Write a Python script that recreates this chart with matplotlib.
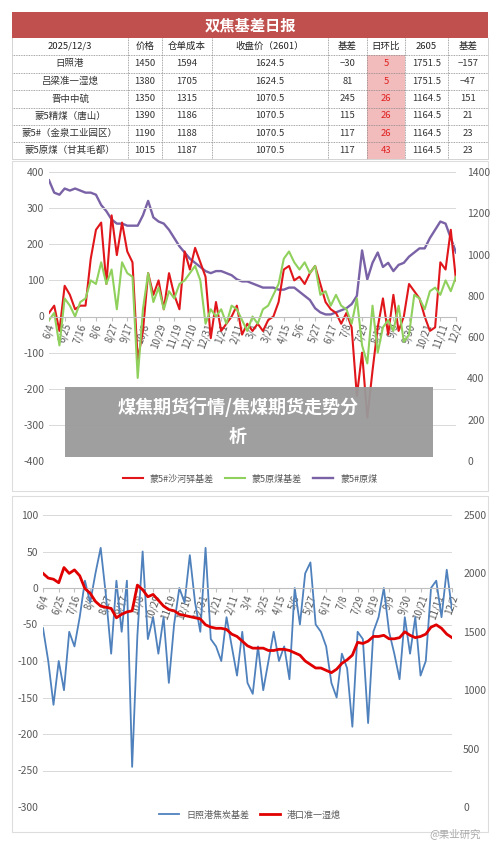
import matplotlib
matplotlib.use("Agg")
import matplotlib.pyplot as plt
import numpy as np

plt.rcParams['font.family'] = ['Noto Sans CJK SC', 'DejaVu Sans']

# ---------------- data ----------------
tick_labels = ["6/4","6/25","7/16","8/6","8/27","9/17","10/8","10/29","11/19","12/10","12/31",
               "1/21","2/11","3/4","3/25","4/15","5/6","5/27","6/17","7/8","7/29","8/19","9/9",
               "9/30","10/21","11/11","12/2"]

red_top = [10,30,-40,85,60,20,30,30,160,240,260,90,280,170,260,180,150,-120,-40,120,60,100,20,120,60,20,
           180,130,190,150,110,-60,40,-40,-20,0,30,-50,-20,-40,-20,-40,-10,0,40,130,140,100,110,90,120,140,
           90,40,20,10,-20,10,-30,-220,-100,-280,-150,-30,50,-50,60,-40,0,90,70,50,0,-40,-30,150,130,240,100]
green_top = [-10,10,-80,50,30,0,40,50,100,90,150,90,130,20,150,120,110,-170,20,120,40,80,20,70,50,90,
             100,120,140,100,-20,20,0,20,-20,30,20,-10,-40,0,-20,20,30,60,90,160,180,150,130,150,120,140,
             60,70,30,60,30,20,-20,50,-80,-130,30,-100,-30,-10,-40,30,-70,-50,60,50,20,70,80,60,100,70,110]
purple_top = [1360,1300,1290,1320,1310,1320,1310,1300,1300,1290,1240,1210,1170,1150,1150,1140,1140,1140,
              1190,1260,1180,1160,1150,1120,1080,1040,1010,980,960,940,920,910,920,920,910,900,880,870,870,
              860,850,840,840,840,830,830,840,840,820,800,780,740,720,710,710,720,730,740,760,800,1020,880,
              960,1010,940,960,920,950,960,990,1010,1030,1030,1080,1120,1160,1150,1080,1010]

blue_bot = [-55,-100,-160,-100,-140,-60,-80,-40,10,-20,20,55,-10,-90,10,-60,10,-245,-65,50,-70,-40,-90,-40,
            -130,-50,0,-20,45,-20,-60,55,-70,-80,-100,-40,-80,-120,-60,-130,-145,-80,-140,-100,-60,-100,-80,
            -125,0,-50,20,35,-50,-60,-80,-130,-150,-90,-110,-190,-60,-70,-185,-60,-40,0,-60,-90,-125,-40,-90,
            -40,-120,-100,0,10,-40,25,-30]
red_bot = [2000,1960,1950,1920,2050,2000,2030,1980,1870,1830,1760,1720,1710,1700,1620,1650,1670,1680,1900,
           1860,1800,1820,1770,1720,1690,1680,1650,1640,1630,1620,1610,1560,1540,1530,1530,1520,1480,1460,
           1420,1380,1360,1360,1360,1340,1340,1350,1350,1340,1320,1300,1250,1220,1190,1190,1170,1150,1180,
           1230,1260,1300,1410,1400,1420,1460,1460,1470,1440,1440,1450,1500,1470,1450,1460,1480,1540,1560,
           1530,1480,1450]

tbl_header = ["2025/12/3","价格","仓单成本","收盘价（2601）","基差","日环比","2605","基差"]
tbl_rows = [
    ["日照港","1450","1594","1624.5","−30","5","1751.5","−157"],
    ["吕梁准一湿熄","1380","1705","1624.5","81","5","1751.5","−47"],
    ["晋中中硫","1350","1315","1070.5","245","26","1164.5","151"],
    ["蒙5精煤（唐山）","1390","1186","1070.5","115","26","1164.5","21"],
    ["蒙5#（金泉工业园区）","1190","1188","1070.5","117","26","1164.5","23"],
    ["蒙5原煤（甘其毛都）","1015","1187","1070.5","117","43","1164.5","23"],
]

W, H = 500, 844
fig = plt.figure(figsize=(5, 8.44), dpi=100)

def px_axes(x0, y0, x1, y1, **kw):
    return fig.add_axes([x0 / W, 1 - y1 / H, (x1 - x0) / W, (y1 - y0) / H], **kw)

# background axes in pixel coords
bg = px_axes(0, 0, W, H)
bg.set_xlim(0, W); bg.set_ylim(H, 0); bg.axis('off')

# ---- table ----
cols = [12, 128, 162, 212, 328, 367, 405, 448, 488]
rows_y = [38, 55, 72.5, 90, 107.5, 124.5, 142, 159]
bg.add_patch(plt.Rectangle((12, 12), 476, 26, color='#c0504d', lw=0))
bg.text(250, 25, "双焦基差日报", color='white', fontsize=11, fontweight='bold', ha='center', va='center')
for r in range(1, 7):
    bg.add_patch(plt.Rectangle((cols[5], rows_y[r]), cols[6] - cols[5], rows_y[r + 1] - rows_y[r],
                               color='#f2bcbc', lw=0))
for i, h in enumerate(tbl_header):
    bg.text((cols[i] + cols[i + 1]) / 2, (rows_y[0] + rows_y[1]) / 2, h, fontsize=6.8,
            ha='center', va='center', color='#222222')
for r, row in enumerate(tbl_rows):
    yc = (rows_y[r + 1] + rows_y[r + 2]) / 2
    for i, v in enumerate(row):
        bg.text((cols[i] + cols[i + 1]) / 2, yc, v, fontsize=6.8, ha='center', va='center',
                color='#e02020' if i == 5 else '#333333')
for y in rows_y[1:-1]:
    bg.plot([12, 488], [y, y], color='#888888', lw=0.6, ls=(0, (1, 1)))
for x in cols[1:-1]:
    bg.plot([x, x], [38, 159], color='#888888', lw=0.6, ls=(0, (1, 1)))
bg.plot([12, 12, 488, 488], [38, 159, 159, 38], color='#cccccc', lw=0.6)

# panel borders
bg.add_patch(plt.Rectangle((12, 161), 476, 330, fill=False, ec='#dddddd', lw=0.8))
bg.add_patch(plt.Rectangle((12, 496), 476, 336, fill=False, ec='#dddddd', lw=0.8))

tick_pos = np.arange(len(tick_labels)) * 3
grid_c = '#d9d9d9'
lab_c = '#595959'

def style(ax, ylim, yticks, ax2, ylim2, yticks2):
    ax.set_xlim(0, 78)
    ax.set_ylim(*ylim)
    ax.set_yticks(yticks)
    ax.set_yticklabels([str(t) if t >= 0 else "-" + str(-t) for t in yticks])
    ax.grid(axis='y', color=grid_c, lw=0.7)
    ax.set_axisbelow(True)
    for s in ['top', 'right', 'left']:
        ax.spines[s].set_visible(False)
    ax.spines['bottom'].set_position(('data', 0))
    ax.spines['bottom'].set_color('#bfbfbf')
    ax.set_xticks(tick_pos)
    ax.set_xticklabels(tick_labels, rotation=70, fontsize=7, color=lab_c, ha='center')
    ax.tick_params(axis='x', length=3, color='#bfbfbf', pad=1)
    ax.tick_params(axis='y', length=0, labelsize=7.5, labelcolor=lab_c)
    ax.patch.set_alpha(0)
    ax2.set_ylim(*ylim2)
    ax2.set_yticks(yticks2)
    ax2.tick_params(axis='y', length=0, labelsize=7.5, labelcolor=lab_c, pad=8)
    for s in ax2.spines.values():
        s.set_visible(False)

# ---- top chart ----
x = np.arange(len(red_top))
ax = px_axes(49, 172, 456, 461)
ax2 = ax.twinx()
l1, = ax.plot(x, red_top, color='#e0161b', lw=1.5, label='蒙5#沙河驿基差')
l2, = ax.plot(x, green_top, color='#8fd15c', lw=1.5, label='蒙5原煤基差')
l3, = ax2.plot(np.arange(len(purple_top)), purple_top, color='#7a62a6', lw=1.7, label='蒙5#原煤')
style(ax, (-400, 400), list(range(-400, 401, 100)), ax2, (0, 1400), list(range(0, 1401, 200)))
ax.set_zorder(ax2.get_zorder() + 1)
fig.legend(handles=[l1, l2, l3], loc='center', bbox_to_anchor=(250 / W, 1 - 479 / H), ncol=3,
           frameon=False, fontsize=6.5, handlelength=2.2, columnspacing=1.2, labelcolor=lab_c)

# ---- bottom chart ----
ax3 = px_axes(43, 515, 452, 807)
ax4 = ax3.twinx()
l4, = ax3.plot(np.arange(len(blue_bot)), blue_bot, color='#4f81bd', lw=1.3, label='日照港焦炭基差')
l5, = ax4.plot(np.arange(len(red_bot)), red_bot, color='#e00000', lw=2.0, label='港口准一湿熄')
style(ax3, (-300, 100), list(range(-300, 101, 50)), ax4, (0, 2500), list(range(0, 2501, 500)))
fig.legend(handles=[l4, l5], loc='center', bbox_to_anchor=(250 / W, 1 - 815 / H), ncol=2,
           frameon=False, fontsize=6.5, handlelength=2.2, columnspacing=1.2, labelcolor=lab_c)

# ---- overlay ----
ov = px_axes(0, 0, W, H)
ov.set_xlim(0, W); ov.set_ylim(H, 0); ov.axis('off')
ov.set_zorder(20)
ov.add_patch(plt.Rectangle((65, 387), 368, 70, color='#9a9a9a', alpha=0.95, lw=0))
ov.text(238, 407, "煤焦期货行情/焦煤期货走势分", color='white', fontsize=13, fontweight='bold',
        ha='center', va='center')
ov.text(238, 436, "析", color='white', fontsize=13, fontweight='bold', ha='center', va='center')
ov.text(455, 834, "@果业研究", color='#aaaaaa', fontsize=7.5, ha='center', va='center')

fig.savefig("out.png", dpi=100)
